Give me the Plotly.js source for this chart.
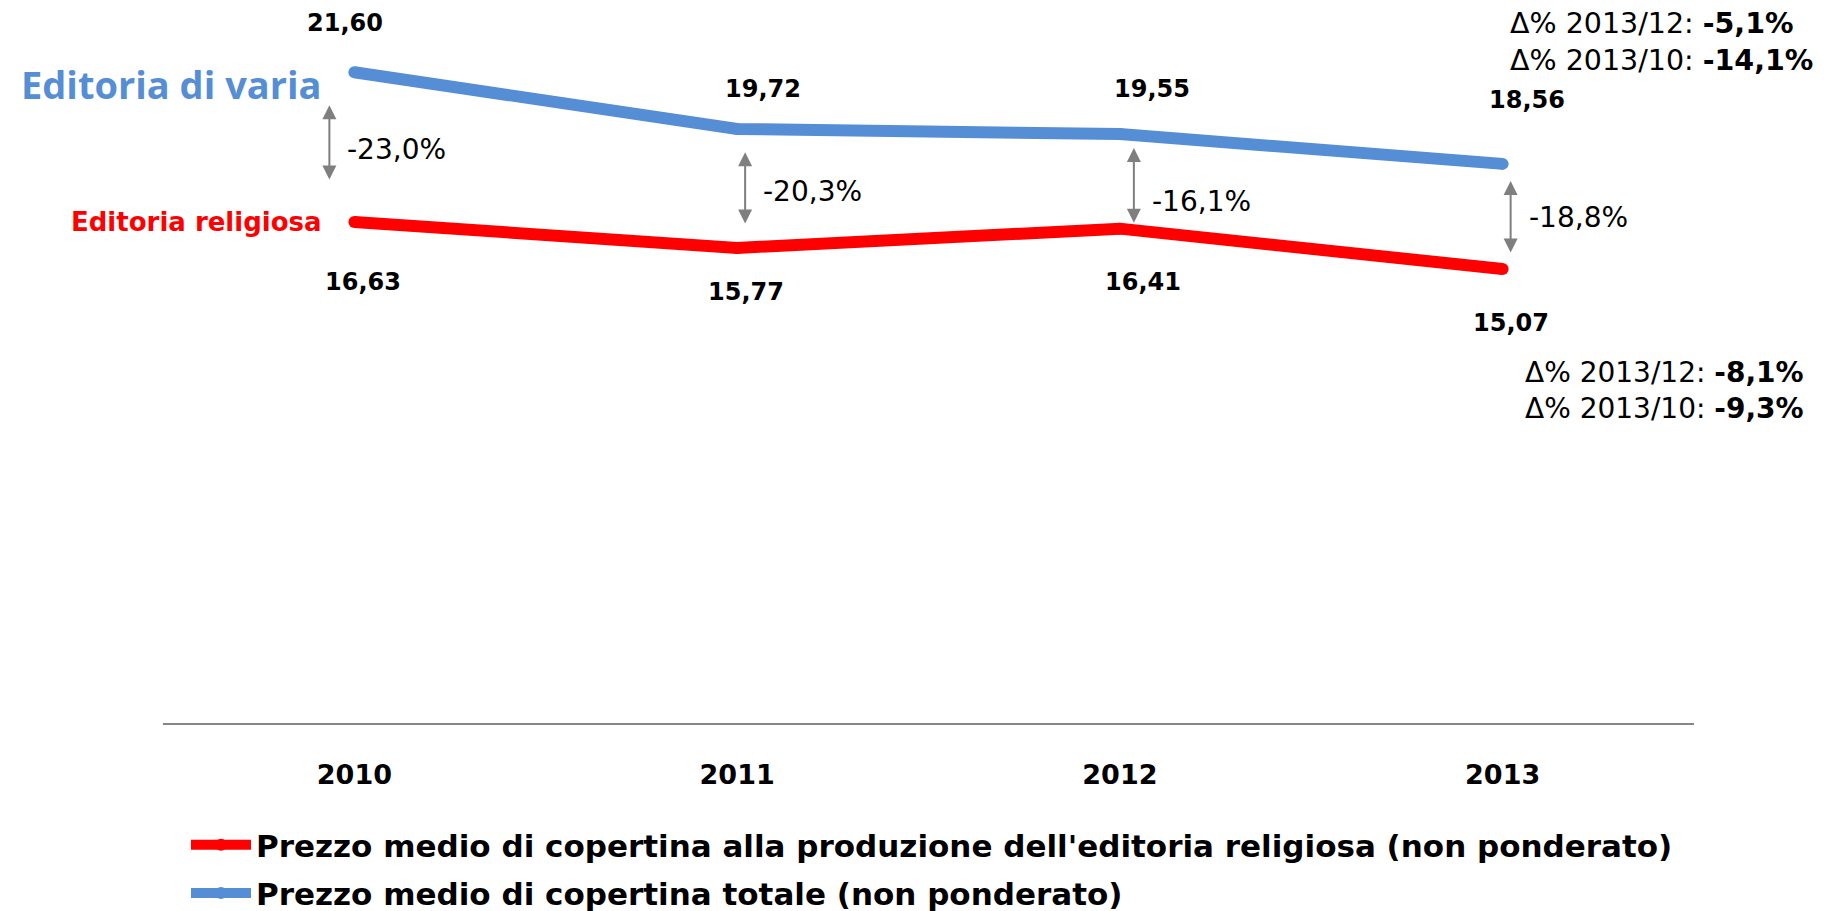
<!DOCTYPE html>
<html>
<head>
<meta charset="utf-8">
<script src="https://cdn.plot.ly/plotly-3.0.1.min.js"></script>
<style>html,body{margin:0;padding:0;background:#fff;}#chart{width:1829px;height:911px;}</style>
</head>
<body>
<div id="chart"></div>
<script>
// ---- data ----
const years = ['2010', '2011', '2012', '2013'];
const religiosa = [16.63, 15.77, 16.41, 15.07];
const varia = [21.60, 19.72, 19.55, 18.56];
const gapLabels = ['-23,0%', '-20,3%', '-16,1%', '-18,8%'];
const arrowTop = [20.51, 18.95, 19.09, 17.99];
const arrowBottom = [17.99, 16.53, 16.56, 15.57];
const seriesNames = [
  "Prezzo medio di copertina alla produzione dell'editoria religiosa (non ponderato)",
  "Prezzo medio di copertina totale (non ponderato)"
];
const variaDelta = ['Δ% 2013/12: <b>-5,1%</b>', 'Δ% 2013/10: <b>-14,1%</b>'];
const religiosaDelta = ['Δ% 2013/12: <b>-8,1%</b>', 'Δ% 2013/10: <b>-9,3%</b>'];

// ---- styling / placement ----
const fmt = v => v.toFixed(2).replace('.', ',');
const RED = '#FF0000', BLUE = '#558ED5', GREY = '#7F7F7F';
const F = 'DejaVu Sans, Verdana, sans-serif';
const variaShift = [[-9, 49], [26, 40], [32, 45], [24, 64]];
const religShift = [[9, -60], [9, -44], [23, -53], [8, -54]];
const arrowX = [-25, 8, 14, 8];
const gapYShift = [-6, -3, -15, 0];

const traces = [
  {x: years, y: religiosa, name: seriesNames[0], legendgroup: 'r', type: 'scatter', mode: 'lines+markers',
   line: {color: RED, width: 12}, marker: {color: RED, size: 12}, hoverinfo: 'skip'},
  {x: years, y: varia, name: seriesNames[1], legendgroup: 'v', type: 'scatter', mode: 'lines+markers',
   line: {color: BLUE, width: 12}, marker: {color: BLUE, size: 12}, hoverinfo: 'skip'}
];

const annotations = [];
years.forEach((yr, i) => {
  annotations.push({x: i, y: varia[i], xref: 'x', yref: 'y', text: '<b>' + fmt(varia[i]) + '</b>',
    showarrow: false, xshift: variaShift[i][0], yshift: variaShift[i][1],
    font: {family: F, size: 24, color: '#000'}});
  annotations.push({x: i, y: religiosa[i], xref: 'x', yref: 'y', text: '<b>' + fmt(religiosa[i]) + '</b>',
    showarrow: false, xshift: religShift[i][0], yshift: religShift[i][1],
    font: {family: F, size: 24, color: '#000'}});
  annotations.push({x: i, y: arrowTop[i], xref: 'x', yref: 'y', ax: i, ay: arrowBottom[i],
    axref: 'x', ayref: 'y', text: '', showarrow: true, arrowside: 'end+start',
    arrowhead: 2, startarrowhead: 2, arrowsize: 1.4, startarrowsize: 1.4, arrowwidth: 2,
    arrowcolor: GREY, xshift: arrowX[i], standoff: 0, startstandoff: 0});
  annotations.push({x: i, y: (arrowTop[i] + arrowBottom[i]) / 2, xref: 'x', yref: 'y',
    text: gapLabels[i], showarrow: false, xanchor: 'left', xshift: arrowX[i] + 16,
    yshift: gapYShift[i], font: {family: F, size: 28, color: '#000'}});
});

annotations.push({x: 0, y: varia[0], xref: 'x', yref: 'y', text: '<b>Editoria di varia</b>',
  showarrow: false, xanchor: 'right', xshift: -30, yshift: -12,
  font: {family: 'Open Sans, sans-serif', size: 38, color: BLUE}});
annotations.push({x: 0, y: religiosa[0], xref: 'x', yref: 'y', text: '<b>Editoria religiosa</b>',
  showarrow: false, xanchor: 'right', xshift: -30, yshift: 0,
  font: {family: F, size: 26, color: RED}});

annotations.push({x: 1508, y: 42, text: variaDelta.join('<br>'),
  showarrow: false, xanchor: 'left', yanchor: 'middle', align: 'left',
  font: {family: F, size: 28.5, color: '#000'}});
annotations.push({x: 1523, y: 390, text: religiosaDelta.join('<br>'),
  showarrow: false, xanchor: 'left', yanchor: 'middle', align: 'left',
  font: {family: F, size: 28, color: '#000'}});

// convert pixel-placed paper annotations
const L = 163, R = 135, T = 0, B = 188, W = 1829, H = 911;
const pw = W - L - R, ph = H - T - B;
annotations.slice(-2).forEach(a => {
  a.xref = 'paper'; a.yref = 'paper';
  a.x = (a.x - L) / pw; a.y = (H - B - a.y) / ph;
});

const layout = {
  width: W, height: H,
  margin: {l: L, r: R, t: T, b: B, autoexpand: false},
  paper_bgcolor: '#fff', plot_bgcolor: '#fff',
  showlegend: true,
  legend: {orientation: 'v', x: (186 - L) / pw, y: (H - B - 818) / ph, xanchor: 'left', yanchor: 'top',
    font: {family: F, size: 31, color: '#000', weight: 'bold'}, tracegroupgap: 5, itemwidth: 60},
  xaxis: {type: 'category', range: [-0.5, 3.5], showgrid: false, zeroline: false,
    showline: true, linecolor: '#868686', linewidth: 2, ticks: '', ticklabelstandoff: 27,
    tickfont: {family: F, size: 27, color: '#000', weight: 'bold'}, fixedrange: true},
  yaxis: {range: [0, 24], showgrid: false, zeroline: false, showline: false,
    showticklabels: false, ticks: '', fixedrange: true},
  annotations: annotations
};

Plotly.newPlot('chart', traces, layout, {displayModeBar: false, staticPlot: true});
</script>
</body>
</html>
